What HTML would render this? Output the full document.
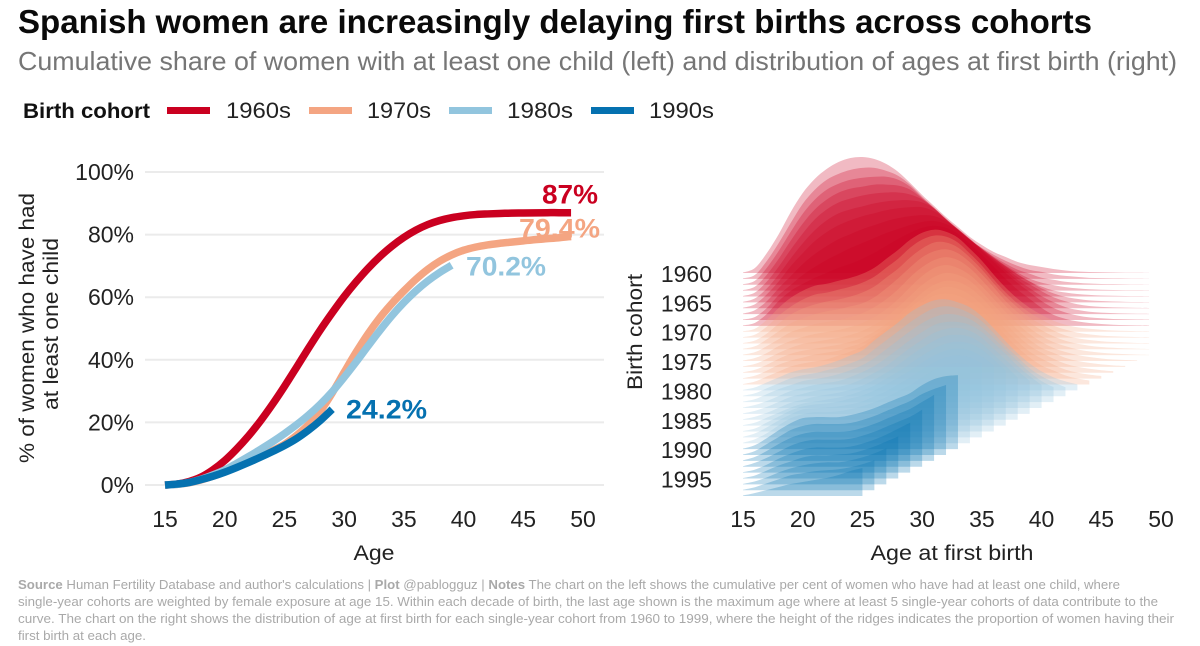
<!DOCTYPE html>
<html lang="en">
<head>
<meta charset="utf-8">
<title>Spanish women are increasingly delaying first births across cohorts</title>
<style>
html,body{margin:0;padding:0;background:#fff;}
svg{display:block;font-family:"Liberation Sans",sans-serif;}
</style>
</head>
<body>
<svg id="chart" xmlns="http://www.w3.org/2000/svg" width="1200" height="646" viewBox="0 0 1200 646">
  <text x="18" y="33" font-size="33" font-weight="700" fill="#0a0a0a" textLength="1074" lengthAdjust="spacingAndGlyphs">Spanish women are increasingly delaying first births across cohorts</text>
  <text x="18" y="70" font-size="26" fill="#767676" textLength="1159" lengthAdjust="spacingAndGlyphs">Cumulative share of women with at least one child (left) and distribution of ages at first birth (right)</text>

  <g>
    <text x="23" y="118" font-size="21.5" font-weight="700" fill="#111" textLength="127" lengthAdjust="spacingAndGlyphs">Birth cohort</text>
    <rect x="167" y="107" width="43" height="7" fill="#ca0020"/>
    <text x="226" y="118" font-size="22" fill="#222" textLength="65" lengthAdjust="spacingAndGlyphs">1960s</text>
    <rect x="309" y="107" width="43" height="7" fill="#f4a582"/>
    <text x="367" y="118" font-size="22" fill="#222" textLength="64" lengthAdjust="spacingAndGlyphs">1970s</text>
    <rect x="449" y="107" width="43" height="7" fill="#92c5de"/>
    <text x="507" y="118" font-size="22" fill="#222" textLength="66" lengthAdjust="spacingAndGlyphs">1980s</text>
    <rect x="591" y="107" width="43" height="7" fill="#0571b0"/>
    <text x="649" y="118" font-size="22" fill="#222" textLength="65" lengthAdjust="spacingAndGlyphs">1990s</text>
  </g>

  <g id="left-panel"></g>
  <g id="right-panel"></g>

  <text transform="translate(34,328) rotate(-90)" text-anchor="middle" font-size="21" fill="#222" textLength="270" lengthAdjust="spacingAndGlyphs">% of women who have had</text>
  <text transform="translate(58,324) rotate(-90)" text-anchor="middle" font-size="21" fill="#222" textLength="172" lengthAdjust="spacingAndGlyphs">at least one child</text>
  <text x="374" y="560" text-anchor="middle" font-size="21" fill="#222" textLength="41" lengthAdjust="spacingAndGlyphs">Age</text>
  <text transform="translate(642,332) rotate(-90)" text-anchor="middle" font-size="21" fill="#222" textLength="116" lengthAdjust="spacingAndGlyphs">Birth cohort</text>
  <text x="952" y="560" text-anchor="middle" font-size="21" fill="#222" textLength="163" lengthAdjust="spacingAndGlyphs">Age at first birth</text>

  <g font-size="13" fill="#a9a9a9">
    <text x="18" y="589" textLength="1102" lengthAdjust="spacingAndGlyphs"><tspan font-weight="700">Source</tspan> Human Fertility Database and author's calculations | <tspan font-weight="700">Plot</tspan> @pablogguz | <tspan font-weight="700">Notes</tspan> The chart on the left shows the cumulative per cent of women who have had at least one child, where</text>
    <text x="18" y="606" textLength="1140" lengthAdjust="spacingAndGlyphs">single-year cohorts are weighted by female exposure at age 15. Within each decade of birth, the last age shown is the maximum age where at least 5 single-year cohorts of data contribute to the</text>
    <text x="18" y="623" textLength="1156" lengthAdjust="spacingAndGlyphs">curve. The chart on the right shows the distribution of age at first birth for each single-year cohort from 1960 to 1999, where the height of the ridges indicates the proportion of women having their</text>
    <text x="18" y="640" textLength="128" lengthAdjust="spacingAndGlyphs">first birth at each age.</text>
  </g>
</svg>

<script>
// ---------- left chart data ----------
const startAge = 15;
const xTickLabels = [15, 20, 25, 30, 35, 40, 45, 50];
const yTickLabels = [0, 20, 40, 60, 80, 100];
const cumulative1960s = [0, 0.3, 1.1, 2.5, 4.8, 7.8, 11.5, 15.7, 20.5, 25.8, 31.5, 37.5, 43.6, 49.5, 55, 60.2, 64.9, 69.2, 73, 76.3, 79.1, 81.4, 83.2, 84.5, 85.4, 86, 86.4, 86.6, 86.75, 86.85, 86.9, 86.95, 87, 87, 87];
const cumulative1970s = [0, 0.2, 0.7, 1.6, 2.8, 4.2, 5.9, 7.6, 9.3, 11, 13, 15.8, 19.2, 23.6, 29.4, 36, 42.4, 48.3, 53.5, 58, 62, 65.7, 68.9, 71.5, 73.5, 75, 76, 76.7, 77.2, 77.6, 78, 78.4, 78.7, 79, 79.4];
const cumulative1980s = [0, 0.2, 0.8, 1.8, 3.2, 4.8, 6.9, 9.1, 11.4, 13.8, 16.4, 19.2, 22.3, 25.8, 29.8, 34.4, 39.3, 44.4, 49.4, 54.1, 58.3, 62, 65.2, 67.9, 70.2];
const cumulative1990s = [0, 0.3, 0.8, 1.7, 2.8, 4.1, 5.6, 7.2, 8.9, 10.7, 12.6, 14.8, 17.5, 20.6, 24.2];
const endLabels = ["87%", "79.4%", "70.2%", "24.2%"];

// ---------- right chart data ----------
const firstCohort = 1960;
const cohortTickLabels = [1960, 1965, 1970, 1975, 1980, 1985, 1990, 1995];
const ridgeHeights = [
[.5,5,20,39,61,80,94,104,111,115,116,114,109,101,90,78,67,56,46,36,28,21,16,11,8,6,4,2.5,1.5,1,.7,.5,.3,.2,.1],
[.5,4,18,36,56,75,89,99,105,109,111,111,108,103,94,82,71,60,49,39,31,24,18,13,9,7,4.5,3,2,1,.8,.5,.4,.2,.1],
[.5,4,17,34,53,71,85,95,101,105,107,108,108,105,98,87,77,66,56,46,36,28,21,15,11,7,5,3,2,1.2,.8,.6,.4,.2,.1],
[.5,4,16,32,50,67,81,91,98,102,104,106,106,105,101,92,82,71,61,51,42,33,25,18,12,8,5.5,3.5,2.2,1.4,.9,.6,.4,.3,.2],
[.5,4,15,30,47,63,77,87,94,98,101,103,104,104,102,97,88,77,67,57,48,39,30,22,15,10,6,4,2.5,1.6,1,.7,.5,.3,.2],
[.5,4,14,28,44,59,72,82,89,93,96,99,101,102,102,100,94,83,73,63,53,44,36,28,21,14,9,5.5,3.5,2,1.3,.8,.5,.3,.2],
[.5,4,14,27,42,55,67,76,83,88,92,95,98,100,101,101,97,89,79,69,59,49,40,31,24,17,11,7,4,2.2,1.4,.9,.6,.4,.2],
[.5,4,13,26,38,50,60,68,75,80,85,89,93,96,98,99,98,93,85,75,64,54,44,34,26,18,12,7,4.2,2.4,1.5,1,.6,.4,.2],
[.5,3,12,25,35,45,53,60,66,72,77,82,87,91,95,98,99,96,90,80,69,58,47,37,28,19,12,7.5,4.5,2.6,1.7,1,.7,.4,.3],
[.5,3,12,25,35,42,48,53,58,62,67,73,80,87,93,98,100,98,92,82,71,59,47,36,27,18,11,7,4.4,2.8,1.8,1.1,.7,.5,.3],
[.5,3,12,24,34,41,46,48,51,54,58,64,73,82,92,99,102,100,94,83,71,57,44,33,24,17,11,7,4.5,3,2,1.2,.8,.5,.3],
[.5,3,11,22,31,38,43,45,48,51,55,61,70,79,90,98,102,101,95,84,72,58,45,34,25,18,12,8,5,3.2,2,1.3,.8,.5,.3],
[.5,3,10,20,29,35,39,42,44,47,51,57,66,75,86,95,101,101,96,86,74,60,47,36,26,19,13,8,5.2,3.4,2.2,1.4,.9,.5,.3],
[.5,3,10,18,26,31,35,38,40,43,46,52,61,71,82,92,98,100,96,87,75,62,48,37,27,19,13,8.5,5.5,3.6,2.3,1.5,.9,.6,.3],
[.5,3,9,16,23,27,31,33,35,38,42,48,56,66,78,88,95,98,95,87,75,62,49,37,27,19,13,9,5.8,3.8,2.4,1.5,1,.6,.3],
[.5,3,8,15,20,24,27,29,31,34,38,44,52,62,74,85,93,96,93,86,75,62,49,37,27,19,13,9,6,4,2.5,1.5,1,.6],
[.5,3,8,14,19,23,25,27,29,32,36,42,50,60,71,82,90,94,92,86,75,62,49,37,27,19,14,9,6,4,2.6,1.6,1],
[.5,3,8,14,19,22,24,26,28,31,35,41,49,58,69,80,88,92,91,85,75,62,49,37,27,20,14,9,6,4,2.6,1.6],
[.5,3,8,14,18,21,24,26,28,32,36,43,51,60,71,80,88,92,90,84,74,62,49,37,27,20,14,9,6,4,2.6],
[.5,3,8,13,18,21,23,25,29,33,38,46,55,64,74,82,89,91,89,83,74,62,49,37,27,19,14,9,6,4],
[.5,3,8,13,18,21,23,26,30,35,40,50,59,68,78,85,90,91,88,83,74,62,49,37,27,19,13,9,6],
[.5,3,8,13,18,21,23,26,29,33,38,47,56,65,74,82,88,90,88,83,75,63,50,39,28,20,14,9],
[.5,3,8,13,17,21,23,25,28,32,37,44,53,62,71,79,85,88,87,83,75,64,52,41,30,21,15],
[.5,3,7,12,17,20,23,25,27,31,36,42,50,59,68,76,83,86,86,83,76,65,54,42,32,23],
[.5,3,7,12,17,20,23,25,27,30,35,41,48,57,66,74,81,85,86,83,76,65,54,43,33],
[.5,3,7,12,17,20,23,25,27,30,34,40,47,55,64,72,79,84,85,83,76,65,54,42],
[.5,3,8,13,18,22,24,26,28,31,35,40,47,54,62,70,77,82,84,82,76,66,55],
[.5,3,9,15,21,25,27,28,30,33,36,41,47,54,61,69,76,81,83,81,75,66],
[.5,4,10,17,23,28,29,30,31,33,36,41,46,53,60,68,75,80,82,80,74],
[.5,4,10,18,25,29,31,31,32,34,37,41,46,52,58,66,73,78,80,78],
[.5,4,11,19,26,31,32,32,32,34,37,41,46,51,56,64,70,73,74],
[.5,4,11,18,25,29,31,31,31,32,35,39,44,49,54,61,66,70],
[.5,4,10,17,23,27,29,29,29,30,33,37,42,47,52,59,66],
[.5,4,9,15,21,25,27,27,27,28,31,35,40,45,50,57],
[.5,3,8,14,19,23,25,25,25,26,29,33,38,44,50],
[.5,3,8,13,17,21,23,23,24,25,28,32,37,42],
[.5,3,7,12,16,19,21,22,22,24,27,31,36],
[.5,3,7,11,15,17,19,20,21,23,26,30],
[.5,3,6,9,12,14,16,18,21,25,28]
];

// ---------- scales ----------
const svgNS = "http://www.w3.org/2000/svg";
const leftPanel = document.getElementById("left-panel");
const rightPanel = document.getElementById("right-panel");
const decadeColors = {1960: "#ca0020", 1970: "#f4a582", 1980: "#92c5de", 1990: "#0571b0"};

function xLeft(age) { return 165 + (age - 15) * 11.943; }
function yLeft(pct) { return 485 - pct * 3.13; }
function xRight(age) { return 743 + (age - 15) * 11.943; }
function yCohort(cohort) { return 273 + (cohort - 1960) * 5.87; }

function mk(tag, parent) {
  const el = document.createElementNS(svgNS, tag);
  parent.appendChild(el);
  return el;
}

function smoothPath(pts) {
  let d = "";
  for (let i = 0; i < pts.length - 1; i++) {
    const p0 = pts[Math.max(i - 1, 0)], p1 = pts[i], p2 = pts[i + 1], p3 = pts[Math.min(i + 2, pts.length - 1)];
    const c1x = p1[0] + (p2[0] - p0[0]) / 6, c1y = p1[1] + (p2[1] - p0[1]) / 6;
    const c2x = p2[0] - (p3[0] - p1[0]) / 6, c2y = p2[1] - (p3[1] - p1[1]) / 6;
    d += "C" + c1x.toFixed(2) + " " + c1y.toFixed(2) + " " + c2x.toFixed(2) + " " + c2y.toFixed(2) + " " + p2[0].toFixed(2) + " " + p2[1].toFixed(2);
  }
  return d;
}

// ---------- left chart ----------
yTickLabels.forEach(function (v) {
  const grid = mk("line", leftPanel);
  grid.setAttribute("x1", 145);
  grid.setAttribute("x2", 604);
  grid.setAttribute("y1", yLeft(v));
  grid.setAttribute("y2", yLeft(v));
  grid.setAttribute("stroke", "#ebebeb");
  grid.setAttribute("stroke-width", 2);
  
  
  const t = mk("text", leftPanel);
  t.textContent = v + "%";
  t.setAttribute("x", 134);
  t.setAttribute("y", yLeft(v) + 8);
  t.setAttribute("text-anchor", "end");
  t.setAttribute("font-size", 23);
  t.setAttribute("fill", "#222");
  
  
});

xTickLabels.forEach(function (v) {
  const t = mk("text", leftPanel);
  t.textContent = v;
  t.setAttribute("x", xLeft(v));
  t.setAttribute("y", 527);
  t.setAttribute("text-anchor", "middle");
  t.setAttribute("font-size", 23);
  t.setAttribute("fill", "#222");
  
  
});

[[cumulative1960s, 1960], [cumulative1970s, 1970], [cumulative1980s, 1980], [cumulative1990s, 1990]].forEach(function (s) {
  const pts = s[0].map(function (v, i) { return [xLeft(startAge + i), yLeft(v)]; });
  const line = mk("path", leftPanel);
  line.setAttribute("d", "M" + pts[0][0] + " " + pts[0][1] + smoothPath(pts));
  line.setAttribute("fill", "none");
  line.setAttribute("stroke", decadeColors[s[1]]);
  line.setAttribute("stroke-width", 7.5);
  line.setAttribute("stroke-linejoin", "round");
  
  
});

// end-of-line value labels
[
  [endLabels[0], 1960, 542, yLeft(cumulative1960s[cumulative1960s.length - 1]) - 9, 56],
  [endLabels[1], 1970, 519, yLeft(cumulative1970s[cumulative1970s.length - 1]) + 1, 81],
  [endLabels[2], 1980, 466, yLeft(cumulative1980s[cumulative1980s.length - 1]) + 10, 80],
  [endLabels[3], 1990, 346, yLeft(cumulative1990s[cumulative1990s.length - 1]) + 9, 81]
].forEach(function (a) {
  const t = mk("text", leftPanel);
  t.textContent = a[0];
  t.setAttribute("x", a[2]);
  t.setAttribute("y", a[3]);
  t.setAttribute("font-size", 27);
  t.setAttribute("font-weight", 700);
  t.setAttribute("fill", decadeColors[a[1]]);
  t.setAttribute("textLength", a[4]);
  t.setAttribute("lengthAdjust", "spacingAndGlyphs");
  
  
});

// ---------- right chart ----------
ridgeHeights.forEach(function (row, r) {
  const cohort = firstCohort + r;
  const base = yCohort(cohort);
  const pts = row.map(function (h, i) { return [xRight(startAge + i), base - h]; });
  const last = pts[pts.length - 1];
  const ridge = mk("path", rightPanel);
  ridge.setAttribute("d", "M" + pts[0][0] + " " + base + "L" + pts[0][0] + " " + pts[0][1] + smoothPath(pts) + "L" + last[0] + " " + base + "Z");
  ridge.setAttribute("fill", decadeColors[Math.floor(cohort / 10) * 10]);
  ridge.setAttribute("fill-opacity", 0.27);
  
  
});

cohortTickLabels.forEach(function (c) {
  const t = mk("text", rightPanel);
  t.textContent = c;
  t.setAttribute("x", 712);
  t.setAttribute("y", yCohort(c) + 9);
  t.setAttribute("text-anchor", "end");
  t.setAttribute("font-size", 23);
  t.setAttribute("fill", "#222");
  
  
});

xTickLabels.forEach(function (v) {
  const t = mk("text", rightPanel);
  t.textContent = v;
  t.setAttribute("x", xRight(v));
  t.setAttribute("y", 527);
  t.setAttribute("text-anchor", "middle");
  t.setAttribute("font-size", 23);
  t.setAttribute("fill", "#222");
  
  
});
</script>
</body>
</html>
